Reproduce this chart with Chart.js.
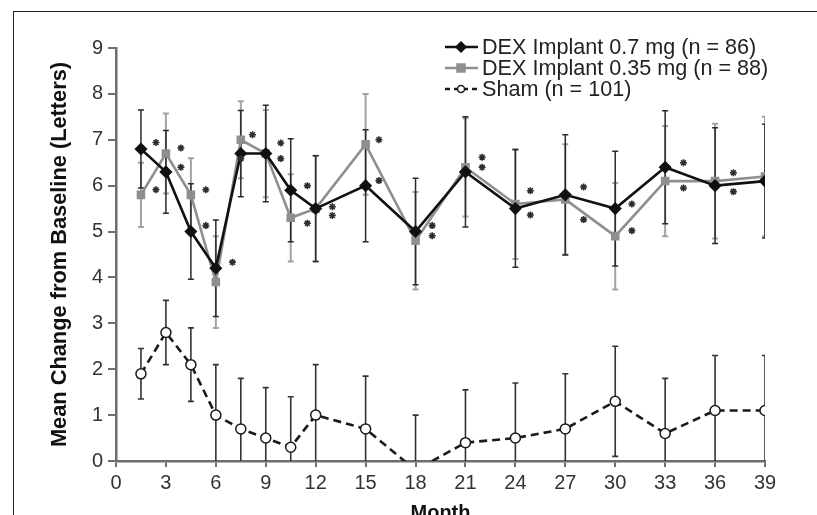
<!doctype html>
<html lang="en">
 <head>
  <meta charset="utf-8">
  <style>
body { margin: 0; background: #fff; }
.wrap { position: relative; width: 817px; height: 515px; }
/* cropped figure frame, only top and left edges show */
.frame { position: absolute; left: 13px; top: 11px; right: -5px; bottom: -5px; border-top: 1px solid #222; border-left: 1px solid #222; pointer-events: none; }
  </style>
  <title>DEX implant mean change from baseline</title>
 </head>
 <body>
  <div class="wrap">
   <canvas id="bcvachart" width="817" height="515"></canvas>
   <div class="frame"></div>
  </div>

  <script src="https://cdn.jsdelivr.net/npm/chart.js@4.4.1/dist/chart.umd.min.js"></script>
  <script>
var months = [1.5, 3, 4.5, 6, 7.5, 9, 10.5, 12, 15, 18, 21, 24, 27, 30, 33, 36, 39];
var dex07 = [6.8, 6.3, 5.0, 4.2, 6.7, 6.7, 5.9, 5.5, 6.0, 5.0, 6.3, 5.5, 5.8, 5.5, 6.4, 6.0, 6.1];
var dex07Err = [0.85, 0.9, 1.04, 1.05, 0.94, 1.05, 1.12, 1.15, 1.22, 1.16, 1.2, 1.28, 1.31, 1.25, 1.23, 1.26, 1.24];
var dex035 = [5.8, 6.7, 5.8, 3.9, 7.0, 6.7, 5.3, 5.5, 6.9, 4.8, 6.4, 5.6, 5.7, 4.9, 6.1, 6.1, 6.2];
var dex035Err = [0.7, 0.87, 0.8, 1.0, 0.84, 0.95, 0.95, 1.15, 1.1, 1.06, 1.07, 1.2, 1.2, 1.16, 1.2, 1.25, 1.3];
var sham = [1.9, 2.8, 2.1, 1.0, 0.7, 0.5, 0.3, 1.0, 0.7, -0.2, 0.4, 0.5, 0.7, 1.3, 0.6, 1.1, 1.1];
var shamErr = [0.55, 0.7, 0.8, 1.1, 1.1, 1.1, 1.1, 1.1, 1.15, 1.2, 1.15, 1.2, 1.2, 1.2, 1.2, 1.2, 1.2];

// significance asterisks (month, value)
var starX = [2.4, 2.4, 3.9, 3.9, 5.4, 5.4, 7.0, 7.5, 8.2, 9.9, 9.9, 11.5, 11.5, 13.0, 13.0, 15.8, 15.8, 19.0, 19.0, 22.0, 22.0, 24.9, 24.9, 28.1, 28.1, 31.0, 31.0, 34.1, 34.1, 37.1, 37.1, 39.7, 39.7];
var starY = [6.94, 5.91, 6.82, 6.4, 5.91, 5.13, 4.33, 6.59, 7.11, 6.93, 6.59, 6.0, 5.18, 5.54, 5.35, 7.0, 6.11, 5.13, 4.91, 6.62, 6.4, 5.89, 5.36, 5.97, 5.26, 5.6, 5.02, 6.5, 5.95, 6.28, 5.87, 6.4, 6.2];

var legendLabels = ['DEX Implant 0.7 mg (n = 86)', 'DEX Implant 0.35 mg (n = 88)', 'Sham (n = 101)'];
var xTicks = [0, 3, 6, 9, 12, 15, 18, 21, 24, 27, 30, 33, 36, 39];

function pts(xs, ys) {
  return xs.map(function (x, i) { return { x: x, y: ys[i] }; });
}

const FONT = "'Liberation Sans', Arial, sans-serif";

const series = [
  { label: legendLabels[0], data: dex07, err: dex07Err, color: '#111', barColor: '#2a2a2a', barWidth: 1.5, style: 'rectRot', radius: 5.5, fill: '#111', dash: [] },
  { label: legendLabels[1], data: dex035, err: dex035Err, color: '#8f8f8f', barColor: '#a3a3a3', barWidth: 2, style: 'rect', radius: 5, fill: '#8f8f8f', dash: [] },
  { label: legendLabels[2], data: sham, err: shamErr, color: '#1a1a1a', barColor: '#333', barWidth: 1.6, style: 'circle', radius: 5, fill: '#fff', dash: [8, 5] }
];

// vertical error bars behind the lines
const errorBars = {
  id: 'errorBars',
  beforeDatasetsDraw(chart) {
    const ctx = chart.ctx, xs = chart.scales.x, ys = chart.scales.y, a = chart.chartArea;
    ctx.save();
    ctx.beginPath();
    ctx.rect(a.left, a.top - 10, a.right - a.left, a.bottom - a.top + 10);
    ctx.clip();
    for (var s = series.length - 1; s >= 0; s--) {
      var ser = series[s];
      ctx.strokeStyle = ser.barColor;
      ctx.lineWidth = ser.barWidth;
      months.forEach(function (m, i) {
        var px = xs.getPixelForValue(m);
        var hi = ys.getPixelForValue(ser.data[i] + ser.err[i]);
        var lo = ys.getPixelForValue(ser.data[i] - ser.err[i]);
        ctx.beginPath();
        ctx.moveTo(px, hi); ctx.lineTo(px, lo);
        ctx.moveTo(px - 3, hi); ctx.lineTo(px + 3, hi);
        ctx.moveTo(px - 3, lo); ctx.lineTo(px + 3, lo);
        ctx.stroke();
      });
    }
    ctx.restore();
  }
};

// legend inside the plot, line + marker sample
const lineLegend = {
  id: 'lineLegend',
  afterDraw(chart) {
    const ctx = chart.ctx;
    var rows = [47, 68, 89];
    ctx.save();
    series.forEach(function (ser, i) {
      var y = rows[i];
      ctx.strokeStyle = ser.color;
      ctx.lineWidth = 2.5;
      ctx.setLineDash(ser.dash.length ? [5, 4] : []);
      ctx.beginPath();
      ctx.moveTo(445, y); ctx.lineTo(478, y);
      ctx.stroke();
      ctx.setLineDash([]);
      ctx.fillStyle = ser.fill;
      ctx.strokeStyle = ser.color;
      ctx.beginPath();
      if (ser.style === 'circle') ctx.arc(461, y, 3.5, 0, Math.PI * 2);
      else if (ser.style === 'rect') ctx.rect(457, y - 4, 8, 8);
      else { ctx.moveTo(461, y - 5); ctx.lineTo(466, y); ctx.lineTo(461, y + 5); ctx.lineTo(456, y); ctx.closePath(); }
      ctx.fill(); ctx.lineWidth = 1.5; ctx.stroke();
      ctx.fillStyle = '#222';
      ctx.font = '21.6px ' + FONT;
      ctx.textBaseline = 'middle';
      ctx.fillText(ser.label, 482, y + 1);
    });
    ctx.restore();
  }
};

const datasets = series.map(function (ser) {
  return {
    label: ser.label,
    data: pts(months, ser.data),
    showLine: true,
    borderColor: ser.color,
    borderWidth: 2.6,
    borderDash: ser.dash,
    pointStyle: ser.style,
    pointRadius: ser.radius,
    pointBackgroundColor: ser.fill,
    pointBorderColor: ser.color,
    pointBorderWidth: 1.5,
    tension: 0
  };
});
datasets.push({
  label: 'p-values',
  data: pts(starX, starY),
  showLine: false,
  pointStyle: 'star',
  pointRadius: 3.5,
  pointBorderColor: '#2d2d2d',
  pointBorderWidth: 1.6,
  clip: false,
  order: -1
});

const chartConfig = {
  type: 'scatter',
  data: { datasets: datasets },
  options: {
    animation: false,
    responsive: false,
    layout: { padding: { left: 0, right: 52, top: 48, bottom: 0 } },
    scales: {
      x: {
        type: 'linear',
        min: 0,
        max: 39,
        afterFit: function (scale) { scale.height = 54; },
        afterBuildTicks: function (scale) { scale.ticks = xTicks.map(function (v) { return { value: v }; }); },
        border: { color: '#6e6e6e', width: 2.5 },
        grid: { drawOnChartArea: false, color: '#6e6e6e', lineWidth: 2, tickLength: 6 },
        ticks: { color: '#333', font: { family: FONT, size: 20 }, padding: 4, maxRotation: 0 },
        title: { display: true, text: 'Month', color: '#111', font: { family: FONT, size: 20, weight: 'bold' }, padding: { top: 0, bottom: -10 } }
      },
      y: {
        type: 'linear',
        min: 0,
        max: 9,
        afterFit: function (scale) { scale.width = 116; },
        border: { color: '#6e6e6e', width: 2.5 },
        grid: { drawOnChartArea: false, color: '#6e6e6e', lineWidth: 2, tickLength: 8 },
        ticks: { stepSize: 1, color: '#333', font: { family: FONT, size: 20 }, padding: 5 },
        title: { display: true, text: 'Mean Change from Baseline (Letters)', color: '#111', font: { family: FONT, size: 21.8, weight: 'bold' }, padding: { top: 47, bottom: 0 } }
      }
    },
    plugins: {
      legend: { display: false },
      tooltip: { enabled: false }
    }
  },
  plugins: [errorBars, lineLegend]
};
const bcvaChart = new Chart(document.getElementById('bcvachart'), chartConfig);
  </script>
 </body>
</html>
